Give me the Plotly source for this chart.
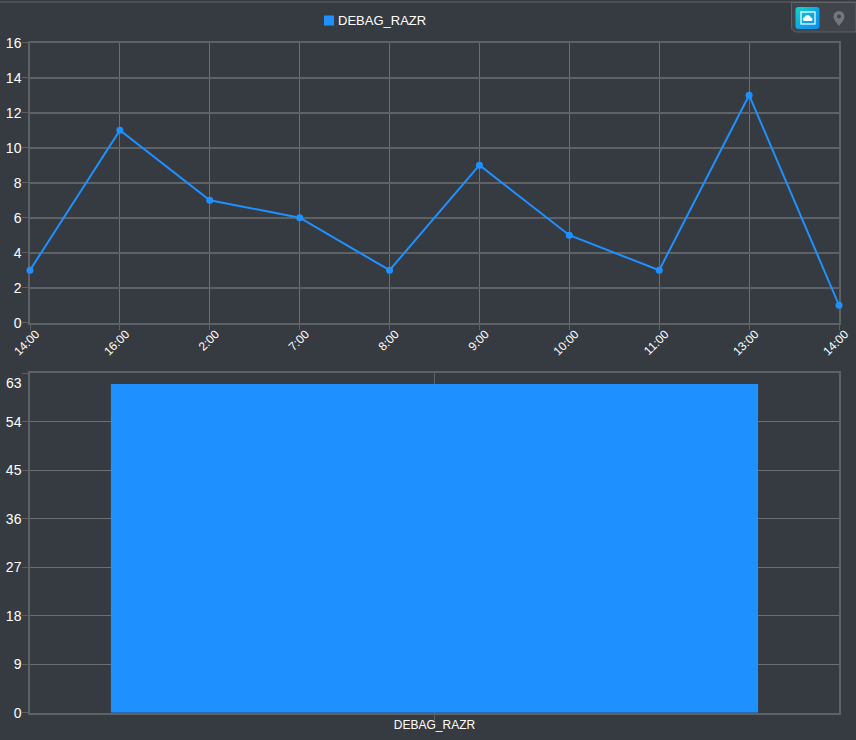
import base64

import plotly.graph_objects as go
from plotly.subplots import make_subplots

W, H = 856, 740
BG = '#363b41'
GRID = '#5f6265'
GRID_THIN = '#6c6f72'
BLUE = '#1e90ff'

hour_labels = ['14:00', '16:00', '2:00', '7:00', '8:00', '9:00', '10:00', '11:00', '13:00', '14:00']
hour_counts = [3, 11, 7, 6, 3, 9, 5, 3, 13, 1]
line_ticks = [0, 2, 4, 6, 8, 10, 12, 14, 16]
bar_names = ['DEBAG_RAZR']
bar_totals = [61]
bar_ticks = [0, 9, 18, 27, 36, 45, 54, 63]
bar_tick_text = ['0', '9', '18', '27', '36', '45', '54', '']

# map switch in the corner, 70x36 px
ICON_SVG = """<svg xmlns='http://www.w3.org/2000/svg' width='70' height='36' viewBox='0 0 70 36'>
<defs><linearGradient id='g' x1='0' y1='0' x2='1' y2='1'>
<stop offset='0' stop-color='#14d6c4'/><stop offset='0.55' stop-color='#0aa6e6'/><stop offset='1' stop-color='#0b8df2'/>
</linearGradient></defs>
<path d='M5.5 2.5 V27 a5 5 0 0 0 5 5 H70 V2.5 Z' fill='#41454b' stroke='#5f6265' stroke-width='1'/>
<rect x='9.5' y='7' width='24' height='22' rx='3' fill='url(#g)'/>
<rect x='15' y='12' width='14' height='12' fill='none' stroke='white' stroke-width='1.2'/>
<path d='M18 21 a2 2 0 0 1 0.5 -3.8 a3.4 3.4 0 0 1 6.4 0.2 a1.9 1.9 0 0 1 0.6 3.6 Z' fill='white'/>
<path fill-rule='evenodd' fill='#73777c' d='M53 11 a5.5 5.5 0 0 1 5.5 5.5 c0 3.4 -3.6 7 -5.5 9.5 c-1.9 -2.5 -5.5 -6.1 -5.5 -9.5 a5.5 5.5 0 0 1 5.5 -5.5 Z M53 14.5 a2 2 0 1 0 0.01 0 Z'/>
</svg>"""


def px(x):
    return x / W


def py(y):
    return 1 - y / H


fig = make_subplots(rows=2, cols=1)

fig.add_trace(go.Scatter(
    x=list(range(len(hour_counts))),
    y=hour_counts,
    mode='lines+markers',
    name='DEBAG_RAZR',
    showlegend=False,
    line=dict(color=BLUE, width=2),
    marker=dict(color=BLUE, size=7),
    cliponaxis=False,
), row=1, col=1)

fig.add_trace(go.Bar(
    x=bar_names,
    y=bar_totals,
    name='DEBAG_RAZR',
    showlegend=False,
    width=0.8,
    marker=dict(color=BLUE, line=dict(width=0)),
), row=2, col=1)

axis_style = dict(
    showgrid=True, gridcolor=GRID,
    showline=True, linecolor=GRID, mirror=True,
    ticks='outside', tickcolor=GRID, ticklen=6, tickwidth=1,
    zeroline=False,
    tickfont=dict(family='Liberation Sans', size=14, color='white'),
)

fig.update_xaxes(axis_style)
fig.update_yaxes(axis_style)

fig.update_xaxes(
    row=1, col=1, domain=[px(30), px(839)], range=[0, len(hour_counts) - 1],
    tickmode='array', tickvals=list(range(len(hour_labels))), ticktext=hour_labels,
    tickangle=-45, tickfont_size=12, ticklabelstandoff=-8, ticklabelshift=6,
    gridcolor=GRID_THIN, gridwidth=1.2, linewidth=1.5, layer='below traces',
)
fig.update_yaxes(
    row=1, col=1, domain=[py(322.7), py(42.7)], range=[line_ticks[0], line_ticks[-1]],
    tickmode='array', tickvals=line_ticks, ticklabelstandoff=-2,
    gridwidth=1.6, linewidth=1.5, layer='below traces',
)
fig.update_xaxes(
    row=2, col=1, domain=[px(30), px(839)], range=[-0.5, 0.5],
    tickmode='array', tickvals=bar_names, tickfont_size=12, ticklabelstandoff=-6,
    gridwidth=1, linewidth=1.5,
)
fig.update_yaxes(
    row=2, col=1, domain=[py(712.7), py(373.3)], range=[bar_ticks[0], bar_ticks[-1]],
    tickmode='array', tickvals=bar_ticks, ticktext=bar_tick_text, ticklabelstandoff=-2,
    gridcolor=GRID_THIN, gridwidth=1, linewidth=1.5,
)

fig.update_layout(
    width=W, height=H,
    margin=dict(l=0, r=0, t=0, b=0, autoexpand=False),
    paper_bgcolor=BG,
    plot_bgcolor=BG,
    font=dict(family='Liberation Sans', color='white', size=14),
    showlegend=False,
    shapes=[
        dict(type='line', xref='paper', yref='paper', x0=0, x1=1, y0=py(2), y1=py(2),
             line=dict(color='#63666b', width=1)),
        # legend swatch
        dict(type='rect', xref='paper', yref='paper', x0=px(324), x1=px(334), y0=py(25.5), y1=py(15.5),
             fillcolor=BLUE, line=dict(width=0)),
    ],
    annotations=[
        dict(text='DEBAG_RAZR', xref='paper', yref='paper', x=px(337), y=py(20.5),
             xanchor='left', yanchor='middle', showarrow=False, borderpad=0,
             font=dict(family='Liberation Sans', size=13, color='white')),
        # the top label sits below its gridline in the reference
        dict(text='63', xref='paper', yref='paper', x=px(24), y=py(383),
             xanchor='right', yanchor='middle', showarrow=False,
             font=dict(family='Liberation Sans', size=14, color='white')),
    ],
    images=[dict(
        source='data:image/svg+xml;base64,' + base64.b64encode(ICON_SVG.encode()).decode(),
        xref='paper', yref='paper', x=px(786), y=py(0),
        sizex=px(70), sizey=36 / H, xanchor='left', yanchor='top',
        sizing='stretch', layer='above',
    )],
)

fig.write_html('out.html', config=dict(displayModeBar=False), post_script="document.body.style.margin='0';")
